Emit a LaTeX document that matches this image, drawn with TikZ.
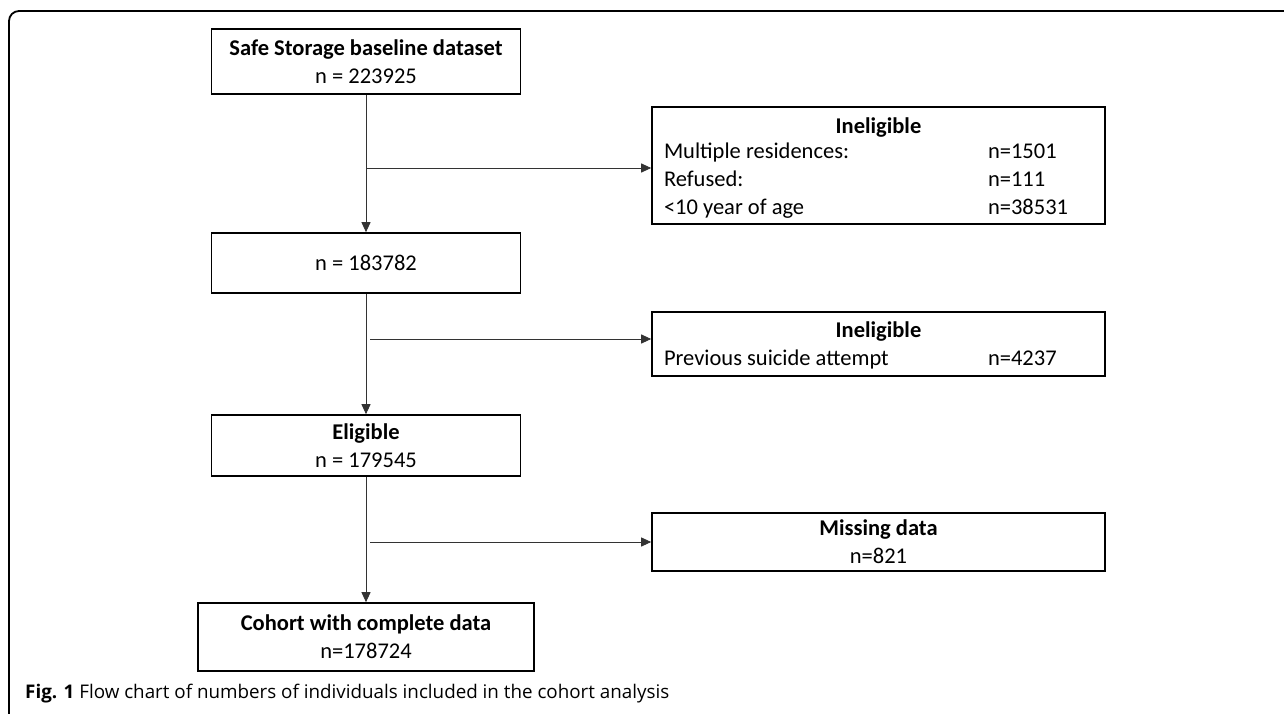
\documentclass[tikz,border=0pt]{standalone}
\usepackage{fontspec}
\setmainfont{Carlito}
\newfontfamily\capfont{Open Sans}
\usetikzlibrary{arrows.meta}

\newcommand{\boxfont}{\fontsize{22.5}{28}\selectfont}

\tikzset{
    flowbox/.style={draw, line width=1.6pt, minimum width=309pt, inner sep=0pt, align=center, font=\boxfont},
    sidebox/.style={draw, line width=1.6pt, minimum width=453pt, inner sep=0pt, align=center, font=\boxfont},
    flow/.style={draw=black!80, line width=0.9pt, -{Triangle[length=10pt, width=9pt]}}
}

\begin{document}
\begin{tikzpicture}[x=1pt, y=-1pt]
            \useasboundingbox (0, 0) rectangle (1284, 714);
            % frame
            \draw[line width=1.8pt, rounded corners=10pt] (9, 714) -- (9, 11) -- (1284, 11);

            % main column
            \node[flowbox, minimum height=65pt] (start) at (366, 61.5) {\textbf{Safe Storage baseline dataset}\\n = 223925};
            \node[flowbox, minimum height=60pt] (second) at (366, 263) {n = 183782};
            \node[flowbox, minimum height=61pt] (eligible) at (366, 445.5) {\textbf{Eligible}\\n = 179545};
            \node[flowbox, minimum width=336pt, minimum height=68pt] (cohort) at (366, 637) {\textbf{Cohort with complete data}\\n=178724};

            % excluded
            \node[sidebox, minimum height=117pt] (inelA) at (878.5, 165.5) {};
            \node[align=center, inner sep=0pt, font=\boxfont] (inelAtext) at ([yshift=-5pt]inelA.center) {%
                \textbf{Ineligible}\\[1pt]
                \begin{tabular}{@{}p{312pt}p{105pt}@{}}
                    Multiple residences: & n=1501\\
                    Refused: & n=111\\
                    <10 year of age & n=38531
                \end{tabular}};
            \node[sidebox, minimum height=64pt] (inelB) at (878.5, 344) {};
            \node[align=center, inner sep=0pt, font=\boxfont] (inelBtext) at ([yshift=-4pt]inelB.center) {%
                \textbf{Ineligible}\\
                \begin{tabular}{@{}p{312pt}p{105pt}@{}}
                    Previous suicide attempt & n=4237
                \end{tabular}};
            \node[sidebox, minimum height=58pt] (missing) at (878.5, 542) {\textbf{Missing data}\\n=821};

            % arrows
            \draw[flow] (start) -- (second);
            \draw[flow] (second) -- (eligible);
            \draw[flow] (eligible) -- (cohort);
            \coordinate (brA) at (366, 168);
            \coordinate (brB) at (370, 339);
            \coordinate (brC) at (370, 542);
            \draw[flow] (brA) -- (brA -| inelA.west);
            \draw[flow] (brB) -- (brB -| inelB.west);
            \draw[flow] (brC) -- (missing.west);

            % caption
            \node[anchor=base west, inner sep=0pt, font=\capfont\fontsize{18.8}{22}\selectfont] (caption) at (25, 698) {\textbf{Fig. 1} Flow chart of numbers of individuals included in the cohort analysis};
        \end{tikzpicture}
\end{document}
